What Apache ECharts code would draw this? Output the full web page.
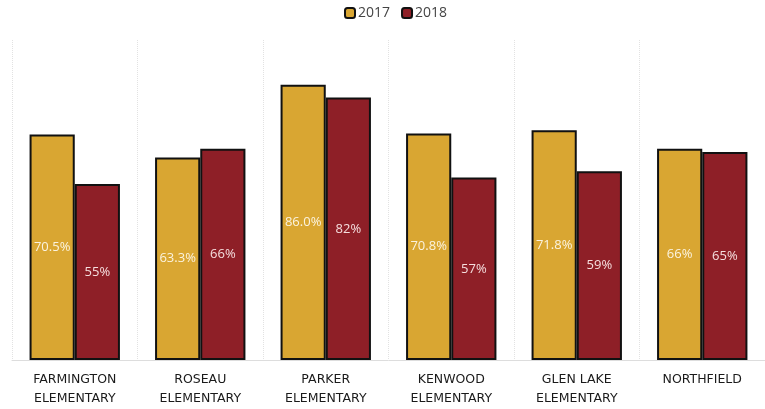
<!DOCTYPE html>
<html><head><meta charset="utf-8">
<script src="https://cdn.jsdelivr.net/npm/echarts@6/dist/echarts.min.js"></script>
<style>html,body{margin:0;padding:0;background:#fff}#c{width:765px;height:409px}</style>
</head><body><div id="c"></div>
<script>
var categories = ["FARMINGTON\nELEMENTARY","ROSEAU\nELEMENTARY","PARKER\nELEMENTARY","KENWOOD\nELEMENTARY","GLEN LAKE\nELEMENTARY","NORTHFIELD"];
var values2017 = [70.5, 63.3, 86.0, 70.8, 71.8, 66];
var values2018 = [55, 66, 82, 57, 59, 65];
var labels2017 = ["70.5%","63.3%","86.0%","70.8%","71.8%","66%"];
var labels2018 = ["55%","66%","82%","57%","59%","65%"];

var chart = echarts.init(document.getElementById('c'));
chart.setOption({
  animation:false,
  backgroundColor:'#fff',
  legend:{top:6,left:344,itemWidth:10,itemHeight:10,itemGap:11,padding:0,
    textStyle:{fontFamily:'Open Sans',fontSize:14,color:'#444',padding:[0,0,0,-2]},
    data:['2017','2018']},
  grid:{left:12,width:760,top:40,height:320},
  xAxis:{type:'category',data:categories,
    axisLine:{lineStyle:{color:'#ddd',width:1}},
    axisTick:{show:false},
    splitLine:{show:true,lineStyle:{color:'#e2e2e2',width:1,type:'dotted'}},
    axisLabel:{fontFamily:'DejaVu Sans',fontSize:12.5,color:'#1a1a1a',margin:10,lineHeight:19,interval:0}},
  yAxis:{type:'value',min:0,max:100,show:false,splitLine:{show:false}},
  series:[
    {name:'2017',type:'bar',data:values2017,barGap:'0%',barCategoryGap:'28%',
     itemStyle:{color:'#D9A632',borderColor:'#111',borderWidth:2},
     label:{show:true,position:'inside',fontFamily:'Open Sans',fontSize:13,color:'#fbf3df',
       formatter:function(p){return labels2017[p.dataIndex];}}},
    {name:'2018',type:'bar',data:values2018,
     itemStyle:{color:'#8E1F27',borderColor:'#111',borderWidth:2},
     label:{show:true,position:'inside',fontFamily:'Open Sans',fontSize:13,color:'#f5dede',
       formatter:function(p){return labels2018[p.dataIndex];}}}
  ]
});
</script></body></html>
